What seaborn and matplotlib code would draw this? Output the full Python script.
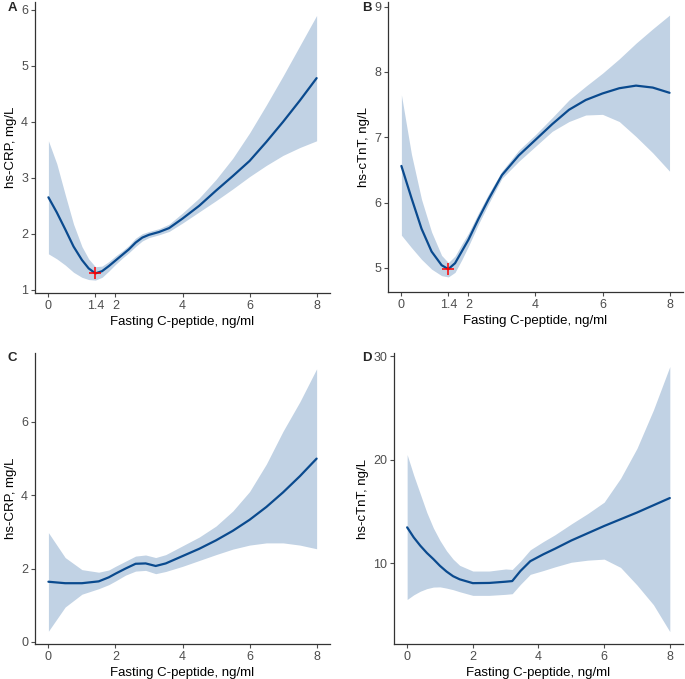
import numpy as np
import pandas as pd
import matplotlib
matplotlib.use("Agg")
import matplotlib.pyplot as plt
import seaborn as sns

sns.set_theme(style="ticks")
plt.rcParams['font.family'] = ['Liberation Sans', 'DejaVu Sans']

# panel A: hs-CRP vs fasting C-peptide
xa = [0, 0.25, 0.5, 0.75, 1.0, 1.2, 1.4, 1.6, 1.8, 2.0, 2.2, 2.4, 2.6, 2.8, 3.0, 3.3, 3.6, 4.0, 4.5, 5.0, 5.5, 6.0, 6.5, 7.0, 7.5, 8.0]
ya = [2.65, 2.38, 2.08, 1.77, 1.53, 1.38, 1.29, 1.33, 1.42, 1.52, 1.62, 1.72, 1.84, 1.93, 1.98, 2.03, 2.1, 2.27, 2.5, 2.77, 3.03, 3.3, 3.64, 4.0, 4.38, 4.78]
lo_a = [1.64, 1.55, 1.44, 1.31, 1.22, 1.18, 1.17, 1.22, 1.33, 1.45, 1.56, 1.66, 1.77, 1.87, 1.93, 1.98, 2.04, 2.19, 2.39, 2.59, 2.8, 3.02, 3.22, 3.4, 3.54, 3.66]
hi_a = [3.66, 3.25, 2.7, 2.17, 1.77, 1.55, 1.41, 1.42, 1.5, 1.6, 1.69, 1.79, 1.92, 2.0, 2.04, 2.09, 2.17, 2.37, 2.64, 2.97, 3.35, 3.8, 4.3, 4.82, 5.36, 5.9]

# panel B: hs-cTnT vs fasting C-peptide
xb = [0, 0.3, 0.6, 0.9, 1.2, 1.4, 1.6, 1.8, 2.0, 2.3, 2.6, 3.0, 3.5, 4.0, 4.5, 5.0, 5.5, 6.0, 6.5, 7.0, 7.5, 8.0]
yb = [6.56, 6.07, 5.6, 5.25, 5.04, 4.98, 5.07, 5.25, 5.43, 5.75, 6.05, 6.42, 6.72, 6.96, 7.2, 7.42, 7.57, 7.67, 7.75, 7.79, 7.76, 7.68]
lo_b = [5.5, 5.31, 5.13, 4.98, 4.88, 4.86, 4.93, 5.12, 5.33, 5.67, 5.98, 6.37, 6.63, 6.86, 7.09, 7.24, 7.34, 7.35, 7.24, 7.01, 6.76, 6.48]
hi_b = [7.65, 6.74, 6.05, 5.55, 5.19, 5.08, 5.18, 5.36, 5.53, 5.84, 6.13, 6.48, 6.8, 7.04, 7.3, 7.57, 7.78, 7.98, 8.2, 8.44, 8.66, 8.87]

# panel C: hs-CRP vs fasting C-peptide (adjusted)
xc = [0, 0.5, 1.0, 1.5, 1.8, 2.0, 2.3, 2.6, 2.9, 3.2, 3.5, 4.0, 4.5, 5.0, 5.5, 6.0, 6.5, 7.0, 7.5, 8.0]
yc = [1.64, 1.6, 1.6, 1.65, 1.76, 1.86, 2.0, 2.13, 2.14, 2.07, 2.14, 2.34, 2.54, 2.77, 3.03, 3.33, 3.68, 4.08, 4.52, 5.0]
lo_c = [0.29, 0.95, 1.3, 1.45, 1.56, 1.66, 1.82, 1.93, 1.95, 1.86, 1.92, 2.06, 2.22, 2.38, 2.53, 2.64, 2.7, 2.7, 2.64, 2.54]
hi_c = [2.98, 2.3, 1.97, 1.9, 1.96, 2.06, 2.2, 2.34, 2.37, 2.3, 2.38, 2.62, 2.86, 3.16, 3.57, 4.1, 4.85, 5.75, 6.55, 7.45]

# panel D: hs-cTnT vs fasting C-peptide (adjusted)
xd = [0, 0.2, 0.4, 0.6, 0.8, 1.0, 1.2, 1.4, 1.6, 2.0, 2.5, 3.0, 3.2, 3.45, 3.75, 4.15, 4.5, 5.0, 5.5, 6.0, 6.5, 7.0, 7.5, 8.0]
yd = [13.47, 12.5, 11.7, 11.0, 10.4, 9.75, 9.2, 8.75, 8.45, 8.08, 8.1, 8.22, 8.28, 9.25, 10.2, 10.87, 11.4, 12.2, 12.9, 13.6, 14.25, 14.9, 15.6, 16.3]
lo_d = [6.5, 6.95, 7.3, 7.55, 7.7, 7.72, 7.6, 7.45, 7.25, 6.9, 6.9, 7.0, 7.06, 7.96, 8.93, 9.3, 9.65, 10.1, 10.3, 10.4, 9.6, 7.9, 6.0, 3.4]
hi_d = [20.5, 18.5, 16.7, 14.9, 13.4, 12.2, 11.2, 10.4, 9.8, 9.25, 9.25, 9.45, 9.4, 10.2, 11.3, 12.1, 12.75, 13.8, 14.8, 15.9, 18.2, 21.1, 24.8, 29.0]

xlab = "Fasting C-peptide, ng/ml"
tags = ["A", "B", "C", "D"]
xs = [xa, xb, xc, xd]
ys = [ya, yb, yc, yd]
los = [lo_a, lo_b, lo_c, lo_d]
his = [hi_a, hi_b, hi_c, hi_d]
ylabs = ["hs-CRP, mg/L", "hs-cTnT, ng/L", "hs-CRP, mg/L", "hs-cTnT, ng/L"]
yticks = [[1, 2, 3, 4, 5, 6], [5, 6, 7, 8, 9], [0, 2, 4, 6], [10, 20, 30]]
xticks = [[0, 1.4, 2, 4, 6, 8], [0, 1.4, 2, 4, 6, 8], [0, 2, 4, 6, 8], [0, 2, 4, 6, 8]]
ylims = [(0.94, 6.14), (4.63, 9.07), (-0.06, 7.88), (2.2, 30.3)]
marked = [True, True, False, False]

# axes boxes in figure fraction [left, bottom, width, height]
boxes = [
    [0.0511, 0.5685, 0.4307, 0.4285],
    [0.5664, 0.5700, 0.4306, 0.4270],
    [0.0511, 0.0515, 0.4307, 0.4285],
    [0.5752, 0.0515, 0.4218, 0.4285],
]
# panel letter positions in pixels from top-left
letter_px = [(12, 8), (367, 8), (12, 358), (367, 358)]

line_col = "#0A4A8E"
band_col = "#C1D2E4"
W, H = 685, 679

fig = plt.figure(figsize=(6.85, 6.79), dpi=100)
for k in range(4):
    x, y = xs[k], ys[k]
    ax = fig.add_axes(boxes[k])
    df = pd.DataFrame({"x": x, "y": y, "lo": los[k], "hi": his[k]})
    ax.fill_between(df["x"], df["lo"], df["hi"], color=band_col, lw=0)
    sns.lineplot(data=df, x="x", y="y", ax=ax, color=line_col, lw=1.6)
    if marked[k]:
        i = int(np.argmin(y))
        ax.plot(x[i], y[i], marker="+", color="red", ms=8, mew=1.1)
    ax.set_xlim(-0.4, 8.4)
    ax.set_ylim(*ylims[k])
    ax.set_xticks(xticks[k])
    ax.set_xticklabels([("%g" % v) for v in xticks[k]])
    ax.set_yticks(yticks[k])
    ax.set_xlabel(xlab, fontsize=9.5, color="black", labelpad=3)
    ax.set_ylabel(ylabs[k], fontsize=9.5, color="black", labelpad=3)
    ax.tick_params(labelsize=9, colors="#4D4D4D", length=3, width=0.8, pad=2)
    sns.despine(ax=ax)
    for s in ["left", "bottom"]:
        ax.spines[s].set_color("#333333")
        ax.spines[s].set_linewidth(0.9)
    px, py = letter_px[k]
    fig.text(px / W, 1 - py / H, tags[k], fontsize=9.5, fontweight="bold",
             ha="center", va="center")

fig.savefig("out.png", dpi=100)
